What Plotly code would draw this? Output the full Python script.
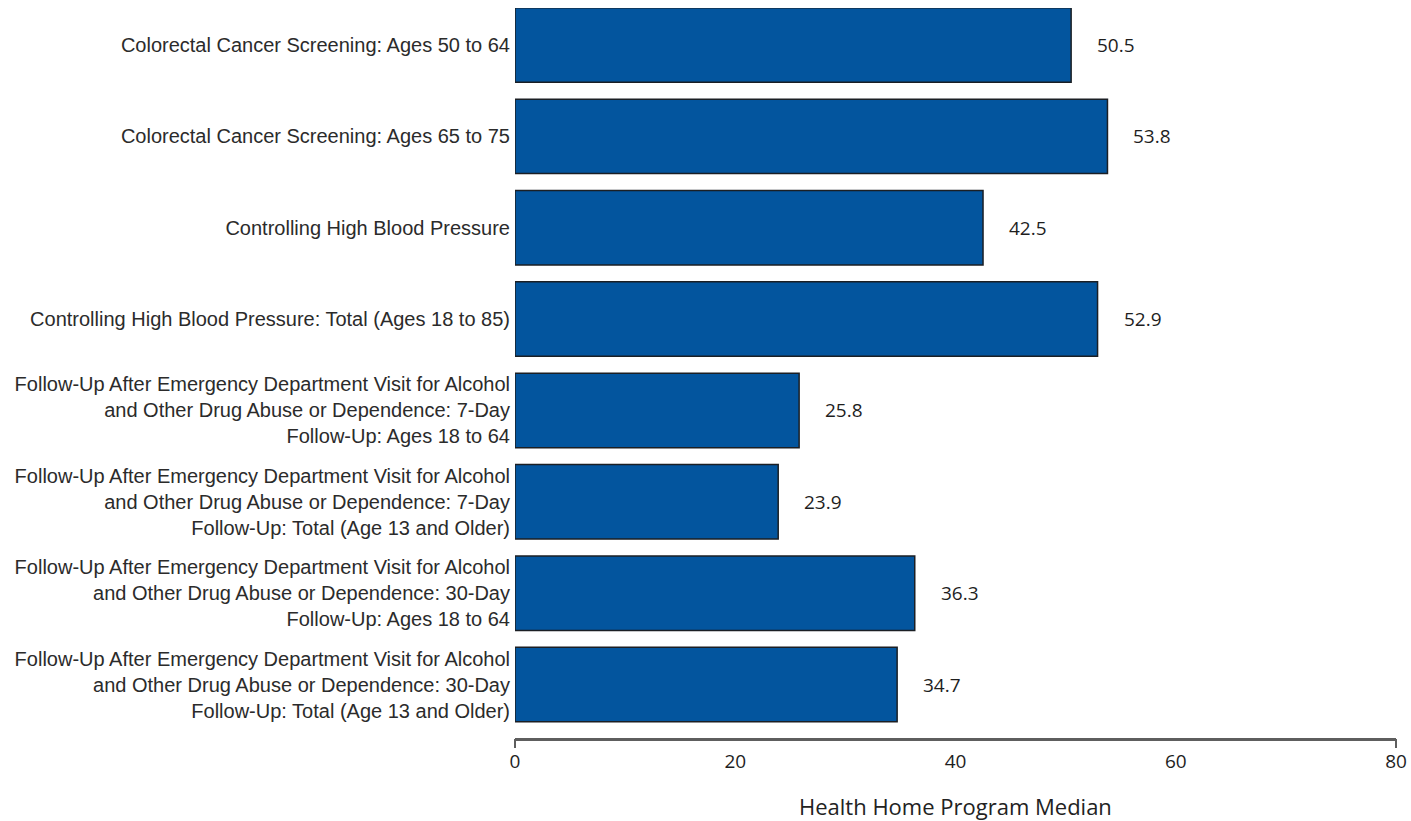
import plotly.graph_objects as go

categories = [
    "Colorectal Cancer Screening: Ages 50 to 64",
    "Colorectal Cancer Screening: Ages 65 to 75",
    "Controlling High Blood Pressure",
    "Controlling High Blood Pressure: Total (Ages 18 to 85)",
    "Follow-Up After Emergency Department Visit for Alcohol<br>and Other Drug Abuse or Dependence: 7-Day<br>Follow-Up: Ages 18 to 64",
    "Follow-Up After Emergency Department Visit for Alcohol<br>and Other Drug Abuse or Dependence: 7-Day<br>Follow-Up: Total (Age 13 and Older)",
    "Follow-Up After Emergency Department Visit for Alcohol<br>and Other Drug Abuse or Dependence: 30-Day<br>Follow-Up: Ages 18 to 64",
    "Follow-Up After Emergency Department Visit for Alcohol<br>and Other Drug Abuse or Dependence: 30-Day<br>Follow-Up: Total (Age 13 and Older)",
]
values = [50.5, 53.8, 42.5, 52.9, 25.8, 23.9, 36.3, 34.7]
x_ticks = [0, 20, 40, 60, 80]
x_title = "Health Home Program Median"

fig = go.Figure()
fig.add_trace(go.Bar(
    y=categories, x=values, orientation="h",
    marker=dict(color="#03559e", line=dict(color="#1b1f24", width=1.5)),
    hoverinfo="x+y",
))

for c, v in zip(categories, values):
    fig.add_annotation(x=v, y=c, text=f"{v:.1f}", showarrow=False,
                       xanchor="left", xshift=24,
                       font=dict(family="Open Sans", size=19, color="#1e1e1e"))

# axis title as a paper annotation below the axis
fig.add_annotation(x=0.5, y=0, xref="paper", yref="paper", text=x_title,
                   showarrow=False, xanchor="center", yanchor="middle", yshift=-68,
                   font=dict(family="Open Sans", size=22, color="#222222"))

# overlay axis for the end ticks only
fig.add_trace(go.Scatter(x=[None], y=[None], xaxis="x2", yaxis="y", showlegend=False))

fig.update_layout(
    width=1411, height=821,
    margin=dict(l=515, r=15, t=8, b=83),
    plot_bgcolor="white", paper_bgcolor="white",
    showlegend=False,
    bargap=0.185,
    xaxis=dict(range=[0, 80], tickvals=x_ticks, ticktext=[str(t) for t in x_ticks],
               showgrid=False, zeroline=False, showline=True, linecolor="#5e5e5e",
               linewidth=2.5, ticks="", ticklabelstandoff=4, ticklabeloverflow="allow",
               automargin=False,
               tickfont=dict(family="Open Sans", size=19, color="#1e1e1e")),
    xaxis2=dict(range=[0, 80], overlaying="x", side="bottom", tickvals=[0, 80],
                showticklabels=False, ticks="outside", ticklen=9, tickwidth=2,
                tickcolor="#5e5e5e", showgrid=False, zeroline=False, showline=False,
                automargin=False),
    yaxis=dict(range=[7.585, -0.405], showgrid=False, zeroline=False, showline=False,
               ticks="", ticklabelstandoff=4, automargin=False,
               tickfont=dict(family="Liberation Sans, Arial", size=20, color="#2b2b2b")),
)

fig.write_html("out.html", config={"displayModeBar": False},
               post_script="document.body.style.margin='0';document.body.style.overflow='hidden';")
